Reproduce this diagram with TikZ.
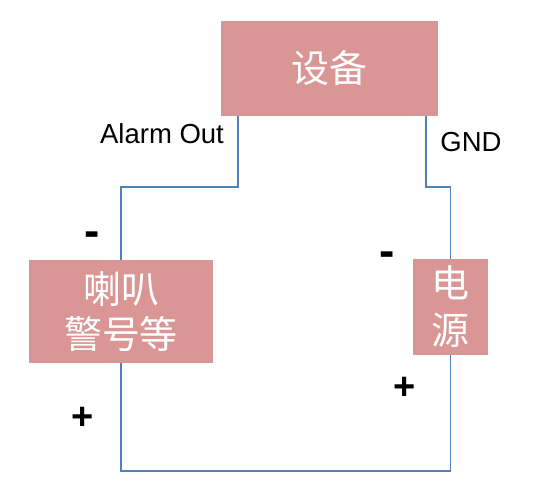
\documentclass[tikz,border=0pt]{standalone}
\usepackage{fontspec}
\setmainfont{Liberation Sans}
\newfontfamily\cjk{Noto Sans CJK SC}
\usepackage{xcolor}
\definecolor{boxRose}{RGB}{217, 150, 148}
\definecolor{wireBlue}{RGB}{79, 129, 189}

\tikzset{
  unitbox/.style={fill=boxRose, text=white, inner sep=0pt, align=center, font=\cjk\fontsize{38}{45}\selectfont},
  wire/.style={wireBlue, line width=1.8pt},
  portlabel/.style={inner sep=0pt, font=\fontsize{27.5}{30}\selectfont},
  sign/.style={inner sep=0pt, font=\bfseries\fontsize{38}{40}\selectfont},
  minussign/.style={sign, font=\bfseries\fontsize{46}{48}\selectfont}
}

\begin{document}
\begin{tikzpicture}[x=1pt, y=-1pt]
            \useasboundingbox (0,0) rectangle (550,488);
            \node[unitbox, minimum width=217pt, minimum height=95pt] (device) at (329.5,68.5) {设备};
            \node[unitbox, minimum width=184pt, minimum height=103pt] (speaker) at (121,311.5) {喇叭\\警号等};
            \node[unitbox, minimum width=75pt, minimum height=96pt, font=\cjk\fontsize{38}{47}\selectfont] (power) at (450.5,307) {电\\源};
            \coordinate (bendL) at (121,187);
            \coordinate (bendR) at (450.5,187);
            \node[portlabel] (alarm) at (162,134) {Alarm Out};
            \node[portlabel] (gnd) at (471,142) {GND};
            \node[minussign] (minusL) at (92,239) {-};
            \node[minussign] (minusR) at (387,259) {-};
            \node[sign] (plusL) at (83,418) {+};
            \node[sign] (plusR) at (405,388) {+};
            \draw[wire] ([xshift=17pt]device.south west) |- (bendL) -- (speaker.north);
            \draw[wire] ([xshift=-12pt]device.south east) |- (bendR) -- (power.north);
            \draw[wire] (speaker.south) -- ++(0,108) -| (power.south);
        \end{tikzpicture}
\end{document}
